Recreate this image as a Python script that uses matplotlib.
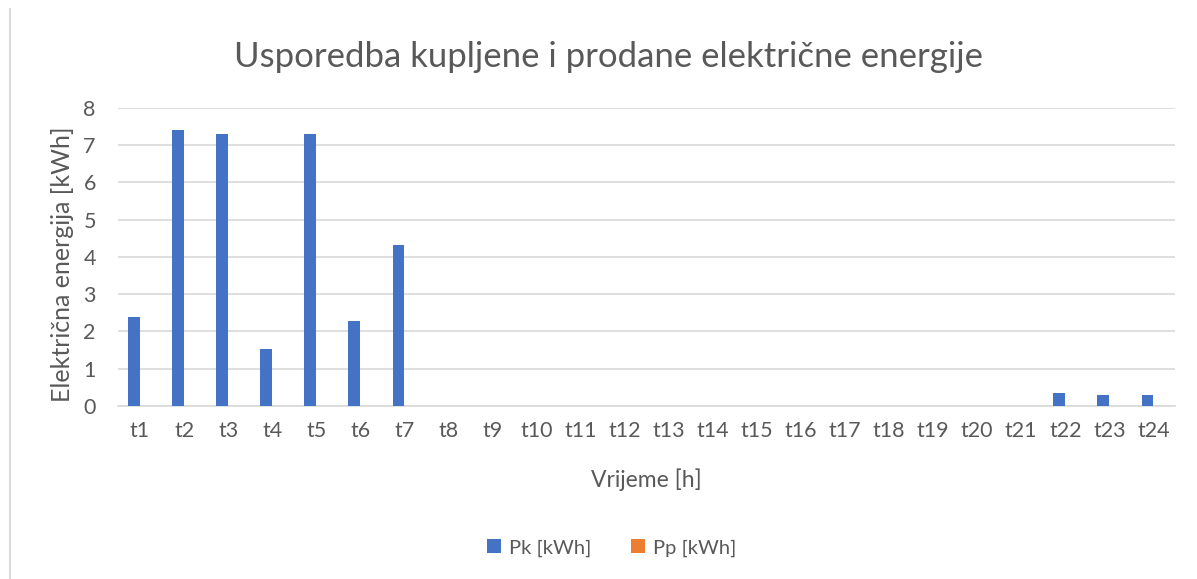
import numpy as np
import matplotlib.pyplot as plt
from matplotlib.lines import Line2D

plt.rcParams['font.family'] = ['Lato', 'DejaVu Sans']

labels = ['t%d' % i for i in range(1, 25)]
pk = [2.4, 7.4, 7.3, 1.53, 7.3, 2.28, 4.32, 0, 0, 0, 0, 0,
      0, 0, 0, 0, 0, 0, 0, 0, 0, 0.35, 0.3, 0.3]
pp = [0] * 24

grey = '#595959'
fig = plt.figure(figsize=(11.97, 5.79), dpi=100)
ax = fig.add_axes([0.0986, 0.2988, 0.8834, 0.5147])

x = np.arange(len(labels))
w = 0.27
ax.bar(x - w / 2, pk, w, color='#4472c4', label='Pk [kWh]', zorder=3)
ax.bar(x + w / 2, pp, w, color='#ed7d31', label='Pp [kWh]', zorder=3)

ax.set_xlim(-0.5, 23.5)
ax.set_ylim(0, 8)
ax.set_yticks(range(0, 9))
ax.set_xticks(x)
ax.set_xticklabels(labels)
ax.grid(axis='y', color='#d9d9d9', linewidth=1.2, zorder=0)
for s in ['top', 'right', 'left']:
    ax.spines[s].set_visible(False)
ax.spines['bottom'].set_color('#d9d9d9')
ax.spines['bottom'].set_linewidth(1.2)
ax.tick_params(length=0, colors=grey, labelsize=15.5)
ax.tick_params(axis='x', pad=11)
ax.tick_params(axis='y', pad=16)

ax.set_xlabel('Vrijeme [h]', fontsize=16.5, color=grey)
ax.xaxis.set_label_coords(0.5, -0.21)
# y label as plain figure text, easier to put exactly
fig.text(0.0518, 0.544, 'Električna energija [kWh]', rotation=90,
         ha='center', va='center', fontsize=18, color=grey)
fig.text(0.508, 0.9016, 'Usporedba kupljene i prodane električne energije',
         ha='center', va='center', fontsize=25, color=grey)

leg = fig.legend(loc='center', bbox_to_anchor=(0.511, 0.0535), ncol=2, frameon=False,
                 fontsize=14.5, handlelength=0.7, handleheight=0.7, columnspacing=2.0,
                 handletextpad=0.4)
for t in leg.get_texts():
    t.set_color(grey)

fig.add_artist(Line2D([0.0083, 0.0083], [0.0, 0.985], color='#d9d9d9', linewidth=1.5))

fig.savefig('out.png', dpi=100)
